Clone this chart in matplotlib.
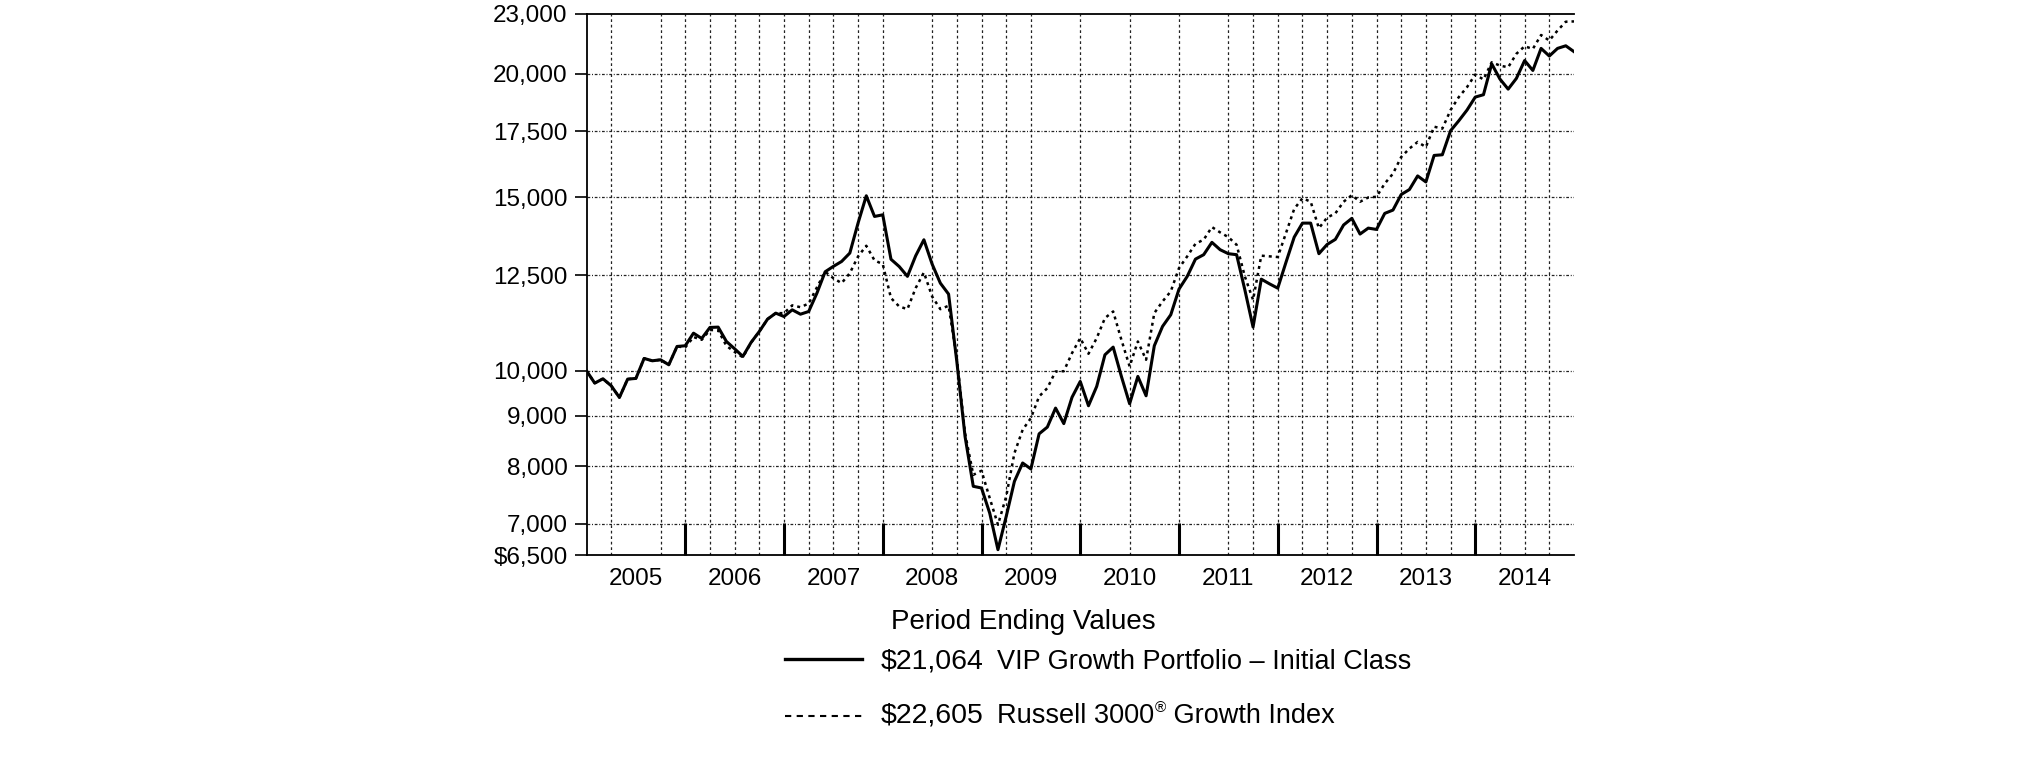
import numpy as np
import matplotlib
matplotlib.use('Agg')
import matplotlib.pyplot as plt
from matplotlib.ticker import FixedLocator, FixedFormatter, NullLocator, NullFormatter

plt.rcParams['font.family'] = ['Liberation Sans', 'DejaVu Sans']

# ---- data (monthly, Dec 2004 .. Dec 2014) ----
portfolio = [10000, 9716, 9815, 9656, 9396, 9807, 9823, 10292, 10236, 10260, 10141, 10584,
             10601, 10918, 10784, 11064, 11073, 10709, 10527, 10340, 10684, 10961, 11281, 11440,
             11351, 11529, 11412, 11484, 11987, 12600, 12760, 12907, 13163, 14118, 15046, 14337,
             14392, 12974, 12755, 12466, 13078, 13578, 12828, 12270, 11960, 10220, 8580, 7636,
             7606, 7172, 6586, 7116, 7724, 8063, 7952, 8631, 8768, 9166, 8840, 9400,
             9754, 9216, 9641, 10380, 10568, 9869, 9259, 9869, 9433, 10601, 11091, 11397,
             12100, 12465, 12978, 13113, 13496, 13266, 13143, 13113, 12082, 11074, 12385, 12250,
             12127, 12882, 13661, 14116, 14116, 13143, 13430, 13590, 14054, 14273, 13760, 13952,
             13909, 14440, 14552, 15090, 15267, 15760, 15540, 16532, 16558, 17513, 17926, 18380,
             18945, 19050, 20473, 19760, 19300, 19790, 20632, 20160, 21225, 20850, 21225, 21355,
             21064]
index = [10000, 9716, 9815, 9656, 9396, 9807, 9823, 10292, 10236, 10260, 10141, 10584,
         10560, 10820, 10750, 11000, 10990, 10600, 10450, 10320, 10680, 10961, 11281, 11440,
         11440, 11650, 11600, 11700, 12150, 12600, 12413, 12270, 12560, 13059, 13389, 12939,
         12828, 11850, 11620, 11547, 12130, 12580, 11893, 11547, 11640, 10300, 8645, 7843,
         7918, 7428, 6980, 7456, 8250, 8713, 8953, 9418, 9603, 9984, 9990, 10421,
         10793, 10405, 10793, 11309, 11485, 10750, 10102, 10708, 10260, 11442, 11757, 12036,
         12708, 13062, 13451, 13581, 13987, 13813, 13661, 13420, 12465, 11800, 13083, 13062,
         13041, 13790, 14591, 14960, 14841, 13950, 14300, 14440, 14838, 15068, 14838, 14988,
         15011, 15481, 15843, 16470, 16800, 17060, 16860, 17680, 17600, 18380, 18945, 19390,
         19970, 19740, 20550, 20390, 20310, 20960, 21330, 21200, 21900, 21620, 22130, 22590,
         22605]
year_labels = ['2005', '2006', '2007', '2008', '2009', '2010', '2011', '2012', '2013', '2014']
y_ticks = [6500, 7000, 8000, 9000, 10000, 12500, 15000, 17500, 20000, 23000]
y_tick_labels = ['$6,500', '7,000', '8,000', '9,000', '10,000', '12,500', '15,000',
                 '17,500', '20,000', '23,000']
legend_title = 'Period Ending Values'
end_values = ['$21,064', '$22,605']
series_names = ['VIP Growth Portfolio \u2013 Initial Class', 'Russell 3000', '\u00ae', ' Growth Index']
missing_quarters = [2, 13, 19, 21, 23, 25]

# ---- figure ----
W, H = 2025, 761
fig = plt.figure(figsize=(W / 100, H / 100), dpi=100)
x0, x1, ytop, ybot = 586.5, 1574.0, 14.0, 555.3
ax = fig.add_axes([x0 / W, 1 - ybot / H, (x1 - x0) / W, (ybot - ytop) / H])

months = np.arange(len(portfolio))
n = len(portfolio) - 1

# grid
for q in range(1, n // 3):
    if q in missing_quarters:
        continue
    ax.axvline(q * 3, color='#222222', lw=0.9, linestyle=(0, (2.2, 2.2)), zorder=1)
for v in y_ticks[1:-1]:
    ax.axhline(v, color='#222222', lw=0.9, linestyle=(0, (2.2, 1.4, 0.8, 1.4)), zorder=1)

ax.plot(months, portfolio, color='black', lw=2.2, zorder=3)
ax.plot(months, index, color='black', lw=1.8, linestyle=(0, (1.2, 1.6)), zorder=3)

ax.set_yscale('log')
ax.set_ylim(y_ticks[0], y_ticks[-1])
ax.set_xlim(0, n)

ax.yaxis.set_major_locator(FixedLocator(y_ticks))
ax.yaxis.set_major_formatter(FixedFormatter(y_tick_labels))
ax.yaxis.set_minor_locator(NullLocator())
ax.yaxis.set_minor_formatter(NullFormatter())
ax.tick_params(axis='y', which='major', direction='out', length=9, width=1.2, pad=4.5,
               labelsize=17.5, colors='black')

ax.xaxis.set_major_locator(FixedLocator(list(range(12, n, 12))))
ax.xaxis.set_major_formatter(NullFormatter())
ax.xaxis.set_minor_locator(FixedLocator([6 + 12 * k for k in range(len(year_labels))]))
ax.xaxis.set_minor_formatter(FixedFormatter(year_labels))
ax.tick_params(axis='x', which='major', direction='in', length=23, width=2.2)
ax.tick_params(axis='x', which='minor', length=0, pad=9, labelsize=17.5)

for s in ['left', 'bottom', 'top']:
    ax.spines[s].set_linewidth(1.3)
    ax.spines[s].set_color('black')
ax.spines['right'].set_visible(False)

# ---- legend block ----
def fx(px):
    return px / W

def fy(py):
    return 1 - py / H

fig.text(fx(891), fy(622), legend_title, fontsize=20, ha='left', va='center')

fig.add_artist(plt.Line2D([fx(785), fx(862)], [fy(659), fy(659)], color='black', lw=2.4))
fig.add_artist(plt.Line2D([fx(785), fx(862)], [fy(716), fy(716)], color='black', lw=1.5,
                          linestyle=(0, (3, 2.6))))

fig.text(fx(881), fy(662), end_values[0], fontsize=20.5, ha='left', va='center')
fig.text(fx(881), fy(716), end_values[1], fontsize=20.5, ha='left', va='center')
fig.text(fx(997), fy(662), series_names[0], fontsize=19.5, ha='left', va='center')

renderer = fig.canvas.get_renderer()
t1 = fig.text(fx(997), fy(716), series_names[1], fontsize=19.5, ha='left', va='center')
bb = t1.get_window_extent(renderer)
t2 = fig.text((bb.x1 + 1) / W, fy(708), series_names[2], fontsize=11, ha='left', va='center')
bb2 = t2.get_window_extent(renderer)
fig.text(bb2.x1 / W, fy(716), series_names[3], fontsize=19.5, ha='left', va='center')

fig.savefig('out.png', dpi=100, facecolor='white')
